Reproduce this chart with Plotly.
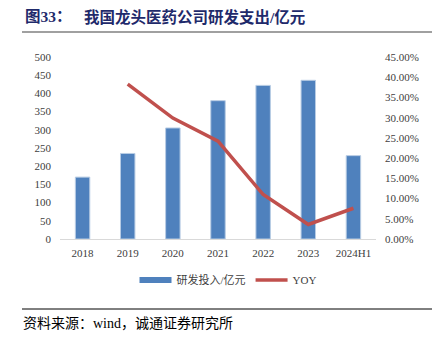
import plotly.graph_objects as go

categories = ["2018", "2019", "2020", "2021", "2022", "2023", "2024H1"]
rd_spend = [170, 235, 305, 380, 422, 436, 229]
yoy = [None, 0.383, 0.299, 0.242, 0.110, 0.036, 0.076]
left_ticks = list(range(0, 501, 50))
right_ticks = [i * 0.05 for i in range(10)]

W, H = 439, 338
L, R, T, B = 60, 376, 57, 239

def px(x):
    return (x - L) / (R - L)

def py(y):
    return (B - y) / (B - T)

BLUE = "#4F81BD"
RED = "#C0504D"
SERIF = "Liberation Serif, Times New Roman, serif"
MIX = "Liberation Serif, Noto Sans CJK SC, serif"

fig = go.Figure()
fig.add_trace(go.Bar(
    x=categories, y=rd_spend, name="研发投入/亿元", marker_color=BLUE,
    marker_line_color="#B8CCE4", marker_line_width=1, width=0.32,
    showlegend=False, yaxis="y",
))
fig.add_trace(go.Scatter(
    x=[None], y=[None], mode="lines", name="研发投入/亿元",
    line=dict(color=BLUE, width=6), yaxis="y",
))
fig.add_trace(go.Scatter(
    x=categories, y=yoy, mode="lines", name="YOY",
    line=dict(color=RED, width=3.5), yaxis="y2",
))

fig.update_layout(
    width=W, height=H,
    margin=dict(l=L, r=W - R, t=T, b=H - B),
    paper_bgcolor="white", plot_bgcolor="white",
    font=dict(family=SERIF, size=11, color="#404040"),
    bargap=0.68,
    xaxis=dict(
        showgrid=False, showline=True, linecolor="#D9D9D9", linewidth=1,
        ticks="", tickfont=dict(family=SERIF, size=11, color="#404040"),
        ticklabelstandoff=4,
    ),
    yaxis=dict(
        range=[0, 500], tickvals=left_ticks, showgrid=False, zeroline=False,
        showline=False, ticks="", ticklabelstandoff=8,
        tickfont=dict(family=SERIF, size=11, color="#404040"),
    ),
    yaxis2=dict(
        range=[0, 0.45], tickvals=right_ticks, tickformat=".2%",
        overlaying="y", side="right", showgrid=False, zeroline=False,
        showline=False, ticks="", ticklabelstandoff=8,
        tickfont=dict(family=SERIF, size=11, color="#404040"),
    ),
    legend=dict(
        orientation="h", x=px(228), xanchor="center", y=py(280), yanchor="middle",
        font=dict(family=MIX, size=11, color="#404040"),
        itemwidth=32, tracegroupgap=0,
    ),
)

fig.add_annotation(
    x=px(23), y=py(17), xref="paper", yref="paper", xanchor="left", yanchor="middle",
    text="<b>图33：</b>", showarrow=False,
    font=dict(family=MIX, size=15.5, color="#1F2A6B"),
)
fig.add_annotation(
    x=px(82), y=py(17), xref="paper", yref="paper", xanchor="left", yanchor="middle",
    text="<b>我国龙头医药公司研发支出/亿元</b>", showarrow=False,
    font=dict(family=MIX, size=15.5, color="#1F2A6B"),
)
fig.add_shape(type="line", xref="paper", yref="paper",
              x0=px(22), x1=px(432), y0=py(32), y1=py(32),
              line=dict(color="#808080", width=1.5))
fig.add_shape(type="line", xref="paper", yref="paper",
              x0=px(22), x1=px(432), y0=py(309), y1=py(309),
              line=dict(color="#000000", width=1))
fig.add_annotation(
    x=px(21), y=py(323), xref="paper", yref="paper", xanchor="left", yanchor="middle",
    text="资料来源：wind，诚通证券研究所", showarrow=False,
    font=dict(family=MIX, size=14, color="#000000"),
)

fig.write_html("out.html")
